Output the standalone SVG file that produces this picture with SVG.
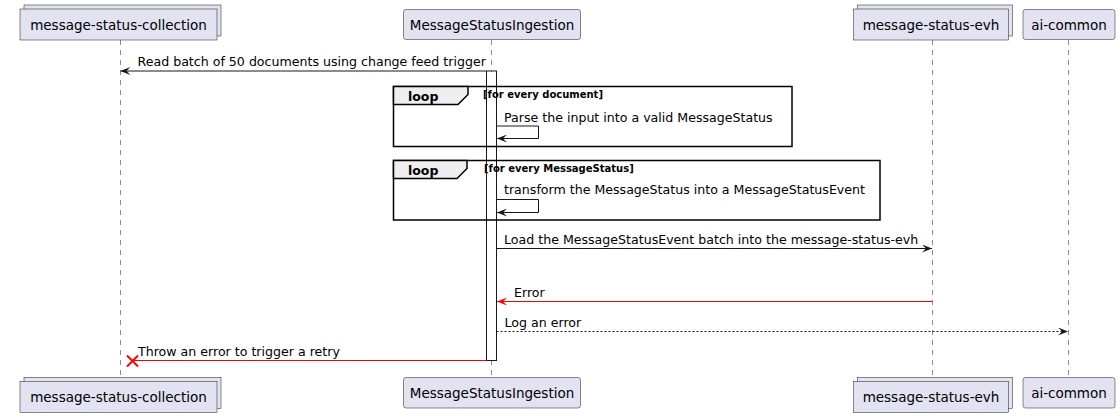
<svg xmlns="http://www.w3.org/2000/svg" width="1120" height="417" viewBox="0 0 1120 417">
<defs>
<marker id="ah" markerWidth="10" markerHeight="8" refX="10" refY="4" orient="auto" markerUnits="userSpaceOnUse"><path d="M0,0 L10,4 L0,8 L4,4 Z" fill="#181818"/></marker>
<marker id="ahr" markerWidth="10" markerHeight="8" refX="10" refY="4" orient="auto" markerUnits="userSpaceOnUse"><path d="M0,0 L10,4 L0,8 L4,4 Z" fill="#FF0000"/></marker>
</defs>
<style>
.part{fill:#E2E2F0;stroke:#181818;stroke-width:0.5}
.pt{font-family:"DejaVu Sans",sans-serif;font-size:13.5px;fill:#000000;text-anchor:middle}
.life{stroke:#181818;stroke-width:0.5;stroke-dasharray:5,5;fill:none}
.msg{font-family:"DejaVu Sans",sans-serif;font-size:12.6px;fill:#000000}
.arr{stroke:#181818;stroke-width:1;fill:none}
.red{stroke:#FF0000;stroke-width:1;fill:none}
.dot{stroke:#181818;stroke-width:1;fill:none;stroke-dasharray:2,2}
.frame{fill:none;stroke:#000000;stroke-width:1.5}
.tab{fill:#EEEEEE;stroke:#000000;stroke-width:1.5}
.lk{font-family:"DejaVu Sans",sans-serif;font-weight:bold;font-size:12.5px;fill:#000000}
.cond{font-family:"DejaVu Sans",sans-serif;font-weight:bold;font-size:10px;fill:#000000}
.act{fill:#FFFFFF;stroke:#181818;stroke-width:1}
</style>
<rect width="1120" height="417" fill="#FFFFFF"/>
<g id="lifelines">
<line class="life" x1="120.5" y1="40" x2="120.5" y2="377.5"/>
<line class="life" x1="491.5" y1="40" x2="491.5" y2="377.5"/>
<line class="life" x1="932.5" y1="40" x2="932.5" y2="377.5"/>
<line class="life" x1="1068.5" y1="40" x2="1068.5" y2="377.5"/>
</g>
<g id="node-message-status-collection">
<rect class="part" x="24" y="5" width="197" height="31"/>
<rect class="part" x="20" y="9" width="197" height="31"/>
<text class="pt" x="118.5" y="29.5">message-status-collection</text>
<rect class="part" x="24" y="377.5" width="197" height="31"/>
<rect class="part" x="20" y="381.5" width="197" height="31"/>
<text class="pt" x="118.5" y="402">message-status-collection</text>
</g>
<g id="node-MessageStatusIngestion">
<rect class="part" x="403.5" y="9.5" width="177" height="30" rx="2.5"/>
<text class="pt" x="492" y="29.5">MessageStatusIngestion</text>
<rect class="part" x="403.5" y="377.5" width="177" height="30.5" rx="2.5"/>
<text class="pt" x="492" y="398">MessageStatusIngestion</text>
</g>
<g id="node-message-status-evh">
<rect class="part" x="857.5" y="5" width="155" height="31"/>
<rect class="part" x="853.5" y="9" width="155" height="31"/>
<text class="pt" x="931" y="29.5">message-status-evh</text>
<rect class="part" x="857.5" y="377.5" width="155" height="31"/>
<rect class="part" x="853.5" y="381.5" width="155" height="31"/>
<text class="pt" x="931" y="402">message-status-evh</text>
</g>
<g id="node-ai-common">
<rect class="part" x="1023" y="9.5" width="92" height="30" rx="2.5"/>
<text class="pt" x="1069" y="29.5">ai-common</text>
<rect class="part" x="1023" y="377.5" width="92" height="30.5" rx="2.5"/>
<text class="pt" x="1069" y="398">ai-common</text>
</g>
<g id="activation">
<rect class="act" x="486.5" y="71" width="10" height="289.5"/>
</g>
<g id="loop-1">
<rect class="frame" x="393.5" y="86.5" width="398.5" height="60"/>
<path class="tab" d="M393.5,86.5 L468,86.5 L468,94.5 L458,104.5 L393.5,104.5 Z"/>
<text class="lk" x="408" y="100.5">loop</text>
<text class="cond" x="483" y="97.5">[for every document]</text>
</g>
<g id="loop-2">
<rect class="frame" x="393.5" y="160.5" width="486.5" height="59.5"/>
<path class="tab" d="M393.5,160.5 L467,160.5 L467,168.5 L457,178.5 L393.5,178.5 Z"/>
<text class="lk" x="408" y="174.5">loop</text>
<text class="cond" x="484" y="172">[for every MessageStatus]</text>
</g>
<g id="connectors">
<line class="arr" x1="486.5" y1="71" x2="120.5" y2="71" marker-end="url(#ah)"/>
<text class="msg" x="137.5" y="66">Read batch of 50 documents using change feed trigger</text>
<polyline class="arr" points="496.5,126 538.5,126 538.5,138.5 497,138.5" marker-end="url(#ah)"/>
<text class="msg" x="504" y="121.5">Parse the input into a valid MessageStatus</text>
<polyline class="arr" points="496.5,199.5 538.5,199.5 538.5,212.5 497,212.5" marker-end="url(#ah)"/>
<text class="msg" x="504" y="193.5">transform the MessageStatus into a MessageStatusEvent</text>
<line class="arr" x1="496.5" y1="248.5" x2="932" y2="248.5" marker-end="url(#ah)"/>
<text class="msg" x="504" y="243.5">Load the MessageStatusEvent batch into the message-status-evh</text>
<line class="red" x1="932.5" y1="301.5" x2="497" y2="301.5" marker-end="url(#ahr)"/>
<text class="msg" x="514" y="297">Error</text>
<line class="dot" x1="496.5" y1="331.5" x2="1068" y2="331.5" marker-end="url(#ah)"/>
<text class="msg" x="504.5" y="327">Log an error</text>
<line class="red" x1="486.5" y1="360.5" x2="133" y2="360.5"/>
<path d="M127,355.5 L138,366.5 M138,355.5 L127,366.5" stroke="#FF0000" stroke-width="2" fill="none"/>
<text class="msg" x="138" y="355.5">Throw an error to trigger a retry</text>
</g>
</svg>
